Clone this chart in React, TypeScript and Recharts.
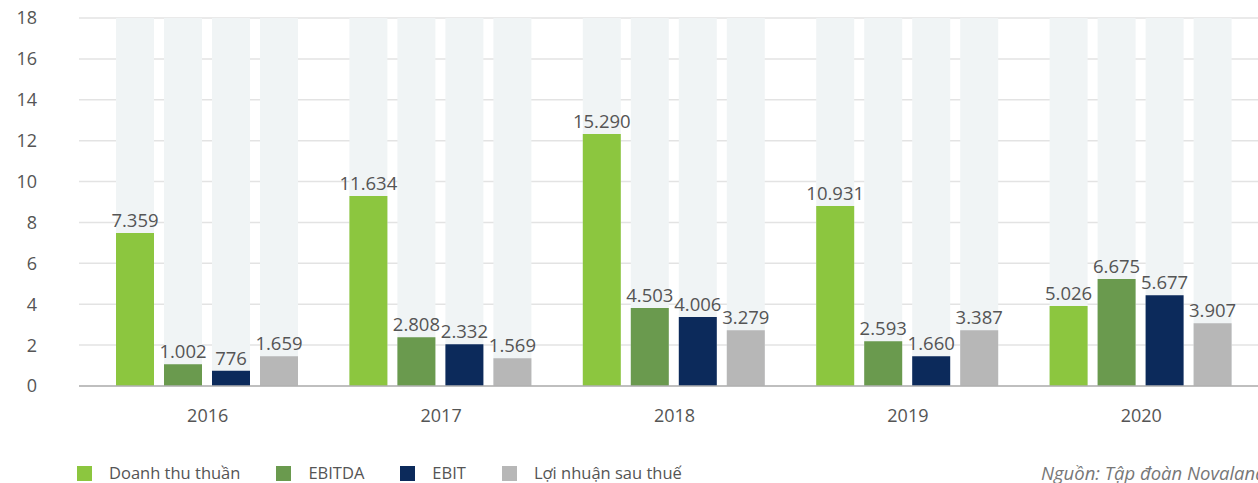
import React from "react";
import { BarChart, Bar, XAxis, YAxis, CartesianGrid, LabelList } from "recharts";

const years = ["2016", "2017", "2018", "2019", "2020"];
const revenue = [7.48, 9.29, 12.33, 8.8, 3.91];
const ebitda = [1.06, 2.39, 3.81, 2.19, 5.23];
const ebit = [0.74, 2.04, 3.37, 1.46, 4.44];
const netProfit = [1.46, 1.36, 2.73, 2.73, 3.07];
const revenueLabels = ["7.359", "11.634", "15.290", "10.931", "5.026"];
const ebitdaLabels = ["1.002", "2.808", "4.503", "2.593", "6.675"];
const ebitLabels = ["776", "2.332", "4.006", "1.660", "5.677"];
const netProfitLabels = ["1.659", "1.569", "3.279", "3.387", "3.907"];
const yTicks = [0, 2, 4, 6, 8, 10, 12, 14, 16, 18];

const series = [
  { key: "rev", name: "Doanh thu thuần", color: "#8cc63f" },
  { key: "ebitda", name: "EBITDA", color: "#6a9a4e" },
  { key: "ebit", name: "EBIT", color: "#0c2a5b" },
  { key: "np", name: "Lợi nhuận sau thuế", color: "#b7b7b7" },
];

const data = years.map((y, i) => ({
  year: y,
  rev: revenue[i],
  ebitda: ebitda[i],
  ebit: ebit[i],
  np: netProfit[i],
  revLabel: revenueLabels[i],
  ebitdaLabel: ebitdaLabels[i],
  ebitLabel: ebitLabels[i],
  npLabel: netProfitLabels[i],
}));

const FONT = "'Open Sans', sans-serif";
const TEXT = "#555555";

export default function App() {
  return (
    <div
      style={{
        position: "absolute",
        left: 0,
        top: 0,
        width: 1258,
        height: 483,
        overflow: "hidden",
        background: "#ffffff",
        fontFamily: FONT,
      }}
    >
      <BarChart
        width={1258}
        height={483}
        data={data}
        margin={{ top: 18, right: 0, left: 0, bottom: 0 }}
        barCategoryGap={25}
        barGap={10}
      >
        <CartesianGrid vertical={false} stroke="#e3e3e3" strokeWidth={1.5} />
        <XAxis
          dataKey="year"
          height={97}
          padding={{ left: 12, right: 0 }}
          axisLine={{ stroke: "#b0b0b0", strokeWidth: 1.5 }}
          tickLine={false}
          tickSize={0}
          tickMargin={23}
          tick={{ fill: TEXT, fontSize: 18, fontFamily: FONT }}
        />
        <YAxis
          width={79}
          domain={[0, 18]}
          ticks={yTicks}
          axisLine={false}
          tickLine={false}
          tickSize={0}
          tickMargin={42}
          tick={{ fill: TEXT, fontSize: 18, fontFamily: FONT }}
        />
        {series.map((s) => (
          <Bar
            key={s.key}
            dataKey={s.key}
            name={s.name}
            fill={s.color}
            isAnimationActive={false}
            background={{ fill: "#f0f4f5" }}
          >
            <LabelList
              dataKey={s.key + "Label"}
              position="top"
              offset={6}
              fill={TEXT}
              fontSize={18.5}
              fontFamily={FONT}
            />
          </Bar>
        ))}
      </BarChart>
      <div
        style={{
          position: "absolute",
          left: 77,
          top: 464,
          display: "flex",
          alignItems: "center",
          fontSize: 16.5,
          color: TEXT,
          lineHeight: "18px",
        }}
      >
        {series.map((s) => (
          <div key={s.key} style={{ display: "flex", alignItems: "center", marginRight: 36 }}>
            <div style={{ width: 15, height: 15, background: s.color, marginRight: 17 }} />
            <span>{s.name}</span>
          </div>
        ))}
      </div>
      <div
        style={{
          position: "absolute",
          left: 1041,
          top: 463,
          fontSize: 18.5,
          fontStyle: "italic",
          color: "#777777",
          whiteSpace: "nowrap",
          lineHeight: "20px",
        }}
      >
        Nguồn: Tập đoàn Novaland
      </div>
    </div>
  );
}
